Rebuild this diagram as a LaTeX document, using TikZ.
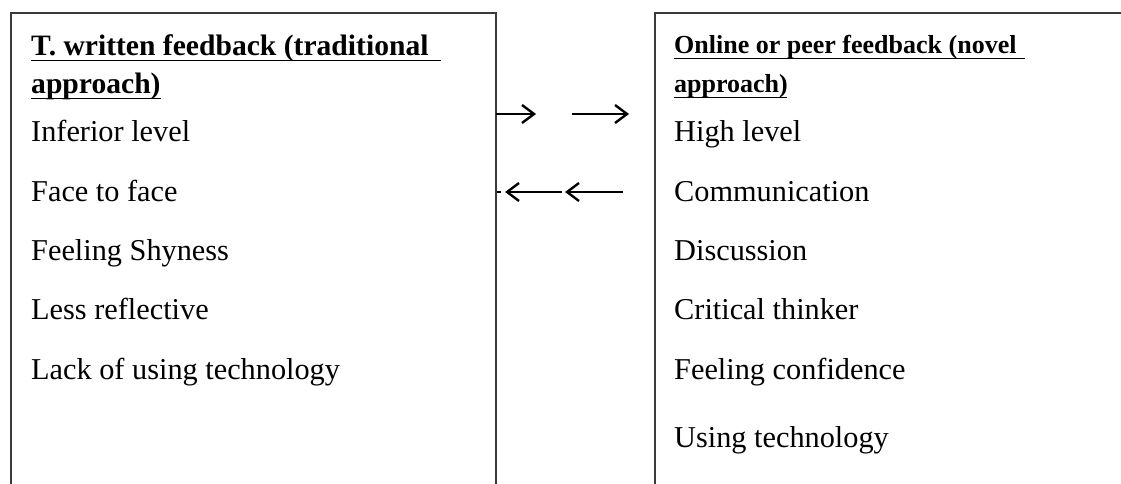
\documentclass[tikz,border=0pt]{standalone}
\usepackage{fontspec}
\setmainfont{Liberation Serif}
\usetikzlibrary{arrows.meta}
\definecolor{boxgray}{HTML}{3A3A3A}
\tikzset{
  body/.style={anchor=base west, inner sep=0pt, font=\fontsize{30.3}{36}\selectfont},
  headL/.style={anchor=base west, inner sep=0pt, font=\fontsize{29.6}{36}\selectfont\bfseries},
  headR/.style={anchor=base west, inner sep=0pt, font=\fontsize{26}{32}\selectfont\bfseries},
  uline/.style={line width=1.8pt, black},
  frame/.style={line width=1.4pt, boxgray},
  arr/.style={line width=2.2pt, -{Straight Barb[length=12pt,width=18pt,line width=2.4pt]}}
}
\begin{document}
\begin{tikzpicture}[x=1pt,y=-1pt]
\useasboundingbox (0,0) rectangle (1121,484);
% boxes (open at the bottom, cut by the page)
\draw[frame] (11,484) |- (496,13) -- (496,484);
\draw[frame] (655,484) |- (1121,13);
% left column
\node[headL] (lh1) at (31,56) {T. written feedback (traditional};
\node[headL] (lh2) at (31,94) {approach)};
\draw[uline] (31,60.5) -- (441,60.5);
\draw[uline] (31,98.5) -- (161,98.5);
\node[body] (l1) at (31,142) {Inferior level};
\node[body] (l2) at (31,201) {Face to face};
\node[body] (l3) at (31,260) {Feeling Shyness};
\node[body] (l4) at (31,319) {Less reflective};
\node[body] (l5) at (31,379) {Lack of using technology};
% right column
\node[headR] (rh1) at (674,54) {Online or peer feedback (novel};
\node[headR] (rh2) at (674,93) {approach)};
\draw[uline] (674,58.5) -- (1025,58.5);
\draw[uline] (674,97.5) -- (787,97.5);
\node[body] (r1) at (674,142) {High level};
\node[body] (r2) at (674,201) {Communication};
\node[body] (r3) at (674,260) {Discussion};
\node[body] (r4) at (674,319) {Critical thinker};
\node[body] (r5) at (674,379) {Feeling confidence};
\node[body] (r6) at (674,447) {Using technology};
% arrows
\coordinate (a1s) at (496,114);
\coordinate (a1e) at (536,114);
\coordinate (a2s) at (572,114);
\coordinate (a2e) at (629,114);
\coordinate (b1s) at (623,192);
\coordinate (b1e) at (565,192);
\coordinate (b2s) at (562,192);
\coordinate (b2e) at (505,192);
\coordinate (bd1) at (497,192);
\coordinate (bd2) at (501,192);
\draw[arr] (a1s) -- (a1e);
\draw[arr] (a2s) -- (a2e);
\draw[arr] (b1s) -- (b1e);
\draw[arr] (b2s) -- (b2e);
\draw[line width=2.2pt] (bd1) -- (bd2);
\end{tikzpicture}
\end{document}
